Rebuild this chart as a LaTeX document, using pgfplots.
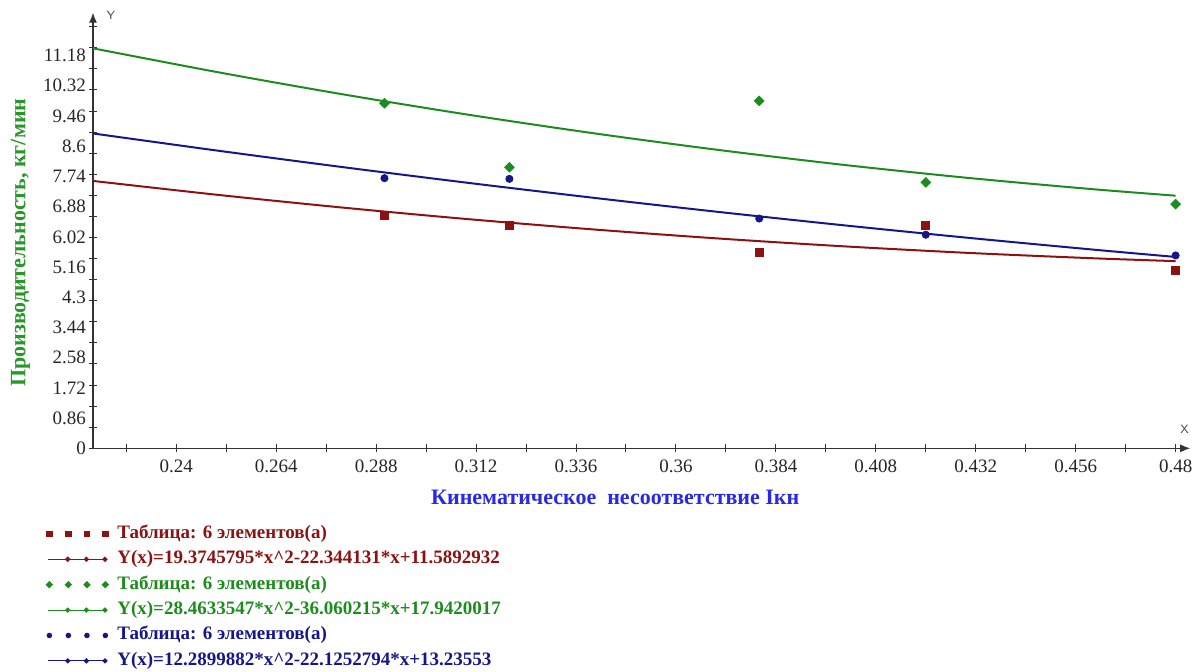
\documentclass[border=0pt]{standalone}
\usepackage{fontspec}
\setmainfont{Liberation Serif}
\usepackage{pgfplots}
\pgfplotsset{compat=1.18}
\usetikzlibrary{arrows.meta}
\definecolor{cred}{RGB}{140,18,18}
\definecolor{cgreen}{RGB}{28,140,28}
\definecolor{cblue}{RGB}{22,22,140}
\definecolor{cxlab}{RGB}{40,40,235}
\definecolor{cylab}{RGB}{40,150,40}
\pgfplotsset{
  scatleg/.style={legend image code/.code={%
    \path[##1, draw=none, mark repeat=1, mark phase=1, every mark/.append style={scale=0.65}] plot coordinates {(2pt,0pt) (11.5pt,0pt) (20.8pt,0pt) (30pt,0pt)};
    \path[draw=none, fill=none] (0pt,0pt) -- (35.5pt,0pt);}},
  lineleg/.style={legend image code/.code={%
    \draw[##1, line width=0.5pt] (1.5pt,0pt) -- (29.8pt,0pt);
    \fill[##1] (11.2pt,0pt) circle (0.7pt) (20.5pt,0pt) circle (0.7pt) (29.8pt,0pt) circle (0.7pt);
    \path[draw=none, fill=none] (0pt,0pt) -- (35.5pt,0pt);}},
}
\begin{document}
\begin{tikzpicture}
\useasboundingbox (-46.5pt,-111.35pt) rectangle (553.5pt,224.15pt);
\begin{axis}[
  at={(0,0)}, anchor=south west,
  scale only axis, width=548.6pt, height=217.8pt,
  xmin=0.22, xmax=0.4835, ymin=0, ymax=12.4,
  axis lines=left,
  axis line style={line width=0.6pt, black!80, -{Latex[length=5pt,width=4pt]}},
  tick align=center, major tick length=4pt,
  tick style={black!80, line width=0.5pt},
  xtick={0.228,0.24,0.252,0.264,0.276,0.288,0.3,0.312,0.324,0.336,0.348,0.36,0.372,0.384,0.396,0.408,0.42,0.432,0.444,0.456,0.468,0.48},
  xticklabels={,0.24,,0.264,,0.288,,0.312,,0.336,,0.36,,0.384,,0.408,,0.432,,0.456,,0.48},
  ytick={0,0.6,1.2,1.8,2.4,3,3.6,4.2,4.8,5.4,6,6.6,7.2,7.8,8.4,9,9.6,10.2,10.8,11.4,12},
  yticklabels={},
  extra y ticks={0,0.86,1.72,2.58,3.44,4.3,5.16,6.02,6.88,7.74,8.6,9.46,10.32,11.18},
  extra y tick labels={0,0.86,1.72,2.58,3.44,4.3,5.16,6.02,6.88,7.74,8.6,9.46,10.32,11.18},
  extra y tick style={major tick length=0pt},
  tick label style={font=\fontsize{9.5}{11}\selectfont, black!85},
  xlabel={Кинематическое\ \ несоответствие Iкн},
  xlabel style={at={(axis description cs:0.476,-0.1117)}, anchor=center, font=\bfseries\fontsize{11}{13}\selectfont, text=cxlab},
  ylabel={Производительность, кг/мин},
  ylabel style={at={(axis description cs:-0.066,0.472)}, anchor=center, rotate=0, font=\bfseries\fontsize{11}{13}\selectfont, text=cylab},
  legend style={at={(axis description cs:-0.0438,-0.1737)}, anchor=north west, draw=none, fill=none,
    inner sep=0pt, row sep=3.2pt, font=\bfseries\fontsize{9.5}{11}\selectfont,
    nodes={inner sep=0.5pt, text height=6.5pt, text depth=2pt}},
  legend cell align=left,
  clip=false,
]
\addplot[only marks, mark=square*, mark size=2pt, color=cred, scatleg] coordinates {
  (0.29,6.64) (0.32,6.34) (0.38,5.57) (0.42,6.35) (0.48,5.06)};
\addlegendentry{\textcolor{cred}{Таблица: 6 элементов(а)}}
\addplot[color=cred, line width=1pt, smooth, lineleg] coordinates {
  (0.22,7.6113) (0.25,7.2142) (0.28,6.8519) (0.31,6.5245) (0.34,6.2320) (0.37,5.9743) (0.40,5.7516) (0.43,5.5637) (0.46,5.4107) (0.48,5.3280)};
\addlegendentry{\textcolor{cred}{Y(x)=19.3745795*x\textasciicircum 2-22.344131*x+11.5892932}}
\addplot[only marks, mark=square*, mark options={rotate=45}, mark size=1.7pt, color=cgreen, scatleg] coordinates {
  (0.29,9.82) (0.32,8.00) (0.38,9.89) (0.42,7.57) (0.48,6.95)};
\addlegendentry{\textcolor{cgreen}{Таблица: 6 элементов(а)}}
\addplot[color=cgreen, line width=1pt, smooth, lineleg] coordinates {
  (0.22,11.3864) (0.25,10.7059) (0.28,10.0767) (0.31,9.4987) (0.34,8.9719) (0.37,8.4964) (0.40,8.0721) (0.43,7.6990) (0.46,7.3772) (0.48,7.1911)};
\addlegendentry{\textcolor{cgreen}{Y(x)=28.4633547*x\textasciicircum 2-36.060215*x+17.9420017}}
\addplot[only marks, mark=*, mark size=1.8pt, color=cblue, scatleg] coordinates {
  (0.29,7.69) (0.32,7.67) (0.38,6.54) (0.42,6.08) (0.48,5.49)};
\addlegendentry{\textcolor{cblue}{Таблица: 6 элементов(а)}}
\addplot[color=cblue, line width=1pt, smooth, lineleg] coordinates {
  (0.22,8.9628) (0.25,8.4723) (0.28,8.0040) (0.31,7.5578) (0.34,7.1337) (0.37,6.7317) (0.40,6.3518) (0.43,5.9941) (0.46,5.6585) (0.48,5.4470)};
\addlegendentry{\textcolor{cblue}{Y(x)=12.2899882*x\textasciicircum 2-22.1252794*x+13.23553}}
\node[anchor=west, font=\sffamily\fontsize{6}{7}\selectfont, black!70] at (axis description cs:0.006,0.994) {Y};
\node[anchor=south, font=\sffamily\fontsize{6}{7}\selectfont, black!70] at (axis description cs:0.995,0.018) {X};
\end{axis}
\end{tikzpicture}
\end{document}
